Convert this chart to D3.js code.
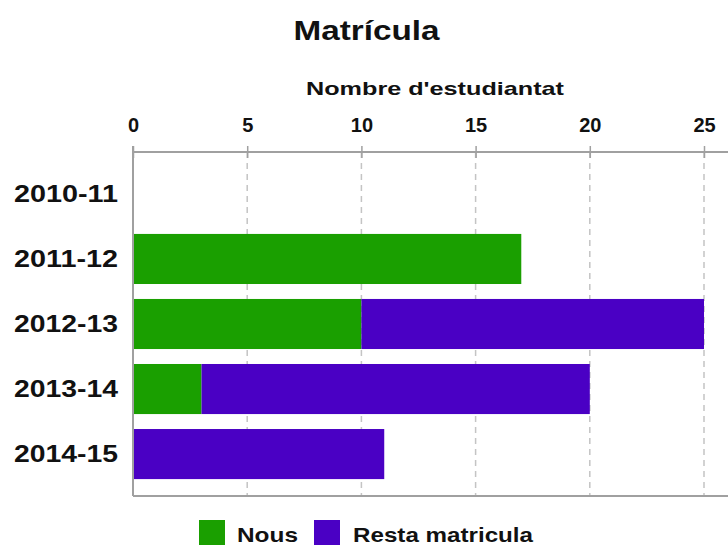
<!DOCTYPE html>
<html>
<head>
<meta charset="utf-8">
<script src="https://cdn.jsdelivr.net/npm/d3@7"></script>
<style>
  html, body { margin: 0; padding: 0; background: #fff; }
  svg { display: block; font-family: "Liberation Sans", Arial, Helvetica, sans-serif; }
</style>
</head>
<body>
<svg id="chart" width="728" height="545"></svg>
<script>
const categories = ["2010-11", "2011-12", "2012-13", "2013-14", "2014-15"];
const nous = [0, 17, 10, 3, 0];
const resta = [0, 0, 15, 17, 11];
const seriesNames = ["Nous", "Resta matricula"];
const seriesColors = ["#1a9f00", "#4a00c4"];
const tickValues = [0, 5, 10, 15, 20, 25];
const title = "Matrícula";
const axisTitle = "Nombre d'estudiantat";

(function () {
const svg = d3.select("#chart");
const pLeft = 133, pRight = 704, pTop = 152, pBottom = 496, axisEnd = 728;

const x = d3.scaleLinear().domain([0, 25]).range([pLeft, pRight]);
const y = d3.scaleBand().domain(categories).range([pTop, pBottom])
  .paddingInner(0.23).paddingOuter(0.26);

const rows = categories.map((c, i) => ({ cat: c, Nous: nous[i], Resta: resta[i] }));
const stack = d3.stack().keys(["Nous", "Resta"])(rows);

// gridlines
svg.append("g").selectAll("line").data(tickValues.filter(d => d > 0)).join("line")
  .attr("x1", d => x(d)).attr("x2", d => x(d))
  .attr("y1", pTop).attr("y2", pBottom)
  .attr("stroke", "#c4c4c4").attr("stroke-width", 1.5)
  .attr("stroke-dasharray", "6,5");

// bars
svg.append("g").selectAll("g").data(stack).join("g")
  .attr("fill", (d, i) => seriesColors[i])
  .selectAll("rect").data(d => d.filter(v => v[1] - v[0] > 0)).join("rect")
  .attr("x", d => x(d[0]))
  .attr("width", d => x(d[1]) - x(d[0]))
  .attr("y", d => y(d.data.cat))
  .attr("height", y.bandwidth());

// axis frame
const axisColor = "#a0a0a0";
svg.append("line").attr("x1", pLeft).attr("x2", axisEnd).attr("y1", pTop).attr("y2", pTop)
  .attr("stroke", axisColor).attr("stroke-width", 2);
svg.append("line").attr("x1", pLeft).attr("x2", axisEnd).attr("y1", pBottom).attr("y2", pBottom)
  .attr("stroke", axisColor).attr("stroke-width", 2);
svg.append("line").attr("x1", pLeft).attr("x2", pLeft).attr("y1", pTop - 6).attr("y2", pBottom)
  .attr("stroke", axisColor).attr("stroke-width", 2);

// top axis ticks
const xAxis = d3.axisTop(x).tickValues(tickValues).tickSize(0).tickFormat(d3.format("d"));
const gx = svg.append("g").attr("transform", `translate(0,${pTop})`).call(xAxis);
gx.select(".domain").remove();
gx.selectAll(".tick line").attr("y1", -6).attr("y2", 6)
  .attr("stroke", axisColor).attr("stroke-width", 1.5);
gx.selectAll(".tick text").attr("y", -20).attr("dy", 0)
  .attr("font-size", 20).attr("font-weight", "bold").attr("fill", "#111")
  .attr("font-family", "'Liberation Sans', Arial, sans-serif");

// category labels
const yAxis = d3.axisLeft(y).tickSize(0);
const gy = svg.append("g").attr("transform", `translate(${pLeft},0)`).call(yAxis);
gy.select(".domain").remove();
gy.selectAll(".tick text").attr("x", -15).attr("dy", "0.36em")
  .attr("font-size", 23).attr("font-weight", "bold").attr("fill", "#111")
  .attr("font-family", "'Liberation Sans', Arial, sans-serif")
  .attr("textLength", 104).attr("lengthAdjust", "spacingAndGlyphs");

// title
svg.append("text").attr("x", 366.5).attr("y", 40).attr("text-anchor", "middle")
  .attr("font-size", 27).attr("font-weight", "bold").attr("fill", "#111")
  .attr("textLength", 146).attr("lengthAdjust", "spacingAndGlyphs")
  .text(title);

// axis title
svg.append("text").attr("x", 435).attr("y", 95).attr("text-anchor", "middle")
  .attr("font-size", 19).attr("font-weight", "bold").attr("fill", "#111")
  .attr("textLength", 258).attr("lengthAdjust", "spacingAndGlyphs")
  .text(axisTitle);

// legend
const legendItems = [
  { name: seriesNames[0], color: seriesColors[0], sx: 199, tx: 237, tw: 61 },
  { name: seriesNames[1], color: seriesColors[1], sx: 314, tx: 353, tw: 180 }
];
const lg = svg.append("g");
legendItems.forEach(it => {
  lg.append("rect").attr("x", it.sx).attr("y", 520).attr("width", 26).attr("height", 25)
    .attr("fill", it.color);
  lg.append("text").attr("x", it.tx).attr("y", 542)
    .attr("font-size", 21).attr("font-weight", "bold").attr("fill", "#111")
    .attr("textLength", it.tw).attr("lengthAdjust", "spacingAndGlyphs")
    .text(it.name);
});
})();
</script>
</body>
</html>
